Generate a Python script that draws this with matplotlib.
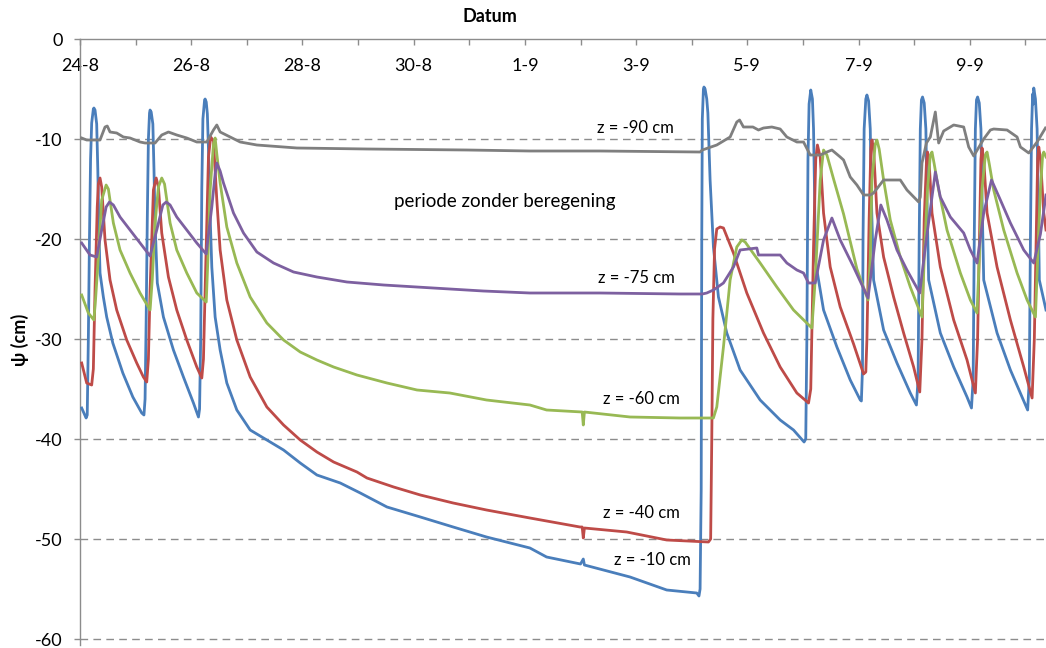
import matplotlib
matplotlib.use("Agg")
import matplotlib.pyplot as plt
from matplotlib.ticker import FixedLocator, MultipleLocator

plt.rcParams['font.family'] = ['Lato', 'DejaVu Sans']
plt.rcParams['axes.unicode_minus'] = False

# x = days since 24-8 (00:00), y = psi in cm
tick_days = [0, 2, 4, 6, 8, 10, 12, 14, 16]
tick_labels = ['24-8', '26-8', '28-8', '30-8', '1-9', '3-9', '5-9', '7-9', '9-9']
y_ticks = [0, -10, -20, -30, -40, -50, -60]

t_z10 = [0.03, 0.11, 0.13, 0.15, 0.17, 0.19, 0.21, 0.24, 0.25, 0.27, 0.30, 0.32, 0.34, 0.36, 0.42, 0.48, 0.59, 0.77, 0.95, 1.11, 1.15,
         1.17, 1.19, 1.21, 1.23, 1.25, 1.26, 1.28, 1.31, 1.33, 1.35, 1.39, 1.50, 1.68, 1.86, 2.04, 2.13,
         2.15, 2.17, 2.19, 2.21, 2.24, 2.25, 2.27, 2.29, 2.31, 2.33, 2.36, 2.37, 2.43, 2.52, 2.64, 2.82, 3.06, 3.36, 3.66, 3.96,
         4.26, 4.68, 5.04, 5.52, 6.12, 6.71, 7.31, 8.09, 8.39, 9.00, 9.05, 9.07, 9.89, 10.55, 11.09, 11.13, 11.15,
         11.17, 11.18, 11.19, 11.21, 11.22, 11.24, 11.27, 11.29, 11.33, 11.39, 11.48, 11.63, 11.87, 12.23, 12.59, 12.83, 13.02,
         13.05, 13.07, 13.09, 13.11, 13.14, 13.17, 13.19, 13.21, 13.22, 13.37, 13.61, 13.85, 14.03, 14.05,
         14.07, 14.08, 14.10, 14.13, 14.15, 14.18, 14.21, 14.23, 14.27, 14.45, 14.69, 14.93, 15.04,
         15.07, 15.09, 15.11, 15.13, 15.15, 15.18, 15.21, 15.23, 15.26, 15.47, 15.71, 15.95, 16.03,
         16.06, 16.08, 16.10, 16.12, 16.14, 16.17, 16.20, 16.22, 16.25, 16.49, 16.73, 16.94, 17.04,
         17.07, 17.09, 17.11, 17.13, 17.14, 17.15, 17.18, 17.21, 17.23, 17.25, 17.37]
v_z10 = [-36.9, -37.9, -37.6, -30.0, -20.0, -12.0, -8.4, -7.0, -6.9, -7.1, -8.5, -13.0, -19.0, -23.4, -25.8, -27.8, -30.4, -33.4, -35.8, -37.4, -37.6,
         -36.0, -28.0, -18.0, -10.0, -7.4, -7.1, -7.3, -8.5, -13.0, -18.4, -24.4, -27.8, -31.1, -33.8, -36.4, -37.8,
         -37.0, -30.0, -15.0, -8.0, -6.1, -6.0, -6.3, -7.5, -11.0, -16.0, -21.0, -22.8, -27.8, -31.1, -34.4, -37.1, -39.1, -40.1, -41.1, -42.4,
         -43.6, -44.4, -45.4, -46.8, -47.8, -48.8, -49.8, -50.9, -51.8, -52.5, -52.0, -52.6, -53.8, -55.1, -55.4, -55.7, -55.0,
         -45.0, -20.0, -8.0, -5.0, -4.8, -5.0, -6.0, -7.4, -14.1, -20.8, -25.8, -29.4, -33.1, -36.1, -38.1, -39.1, -40.3,
         -40.0, -30.0, -12.0, -6.5, -5.1, -6.0, -9.0, -16.0, -22.1, -27.1, -30.8, -34.1, -36.1, -36.2,
         -33.0, -20.0, -9.0, -6.0, -5.6, -6.2, -9.0, -16.0, -24.1, -29.1, -32.4, -35.4, -36.6,
         -34.0, -20.0, -9.0, -6.1, -5.8, -6.4, -9.0, -16.0, -24.1, -29.4, -32.8, -35.8, -36.9,
         -34.0, -20.0, -9.0, -6.1, -5.8, -6.4, -9.0, -16.0, -24.1, -29.4, -33.1, -35.8, -37.1,
         -34.0, -20.0, -9.0, -5.5, -6.5, -4.9, -6.0, -9.0, -16.0, -24.1, -27.1]

t_z40 = [0.03, 0.12, 0.21, 0.24, 0.27, 0.31, 0.33, 0.36, 0.39, 0.45, 0.54, 0.66, 0.84, 1.02, 1.14, 1.20,
         1.23, 1.26, 1.32, 1.37, 1.41, 1.47, 1.59, 1.74, 1.92, 2.10, 2.19,
         2.22, 2.25, 2.31, 2.35, 2.40, 2.46, 2.52, 2.64, 2.82, 3.06, 3.36, 3.66, 3.96, 4.26, 4.56, 4.98, 5.16, 5.64,
         6.12, 6.71, 7.31, 8.09, 8.99, 9.03, 9.05, 9.07, 9.83, 10.55, 11.30, 11.34,
         11.36, 11.38, 11.41, 11.45, 11.51, 11.57, 11.75, 11.99, 12.29, 12.59, 12.89, 13.10,
         13.14, 13.19, 13.23, 13.26, 13.31, 13.37, 13.49, 13.67, 13.91, 14.09, 14.13,
         14.15, 14.19, 14.22, 14.24, 14.27, 14.33, 14.45, 14.63, 14.81, 14.99, 15.10,
         15.14, 15.18, 15.22, 15.24, 15.27, 15.32, 15.47, 15.71, 15.95, 16.10,
         16.14, 16.18, 16.20, 16.22, 16.25, 16.31, 16.49, 16.73, 16.97, 17.12,
         17.16, 17.20, 17.22, 17.24, 17.27, 17.33, 17.37]
v_z40 = [-32.4, -34.4, -34.6, -33.0, -25.1, -16.8, -14.5, -13.9, -14.8, -20.1, -24.1, -27.1, -30.1, -32.4, -33.8, -34.3,
         -32.0, -25.1, -15.1, -13.9, -14.8, -19.4, -23.8, -27.1, -30.1, -32.8, -33.9,
         -32.0, -25.1, -11.8, -9.8, -10.2, -16.1, -21.1, -26.1, -30.1, -33.8, -36.8, -38.6, -40.1, -41.3, -42.3, -43.3, -43.9, -44.8,
         -45.6, -46.4, -47.1, -47.9, -48.8, -48.8, -49.9, -48.9, -49.3, -50.1, -50.3, -50.0,
         -40.0, -28.0, -21.0, -19.0, -18.8, -18.9, -21.4, -25.4, -29.4, -32.8, -35.4, -36.4,
         -35.0, -20.8, -12.0, -10.6, -11.8, -17.4, -22.8, -26.8, -30.5, -33.5, -33.3,
         -30.0, -18.0, -11.0, -10.1, -11.0, -17.4, -21.8, -25.8, -29.4, -32.8, -35.3,
         -30.0, -18.0, -12.4, -11.3, -12.5, -17.4, -22.8, -28.1, -32.1, -35.4,
         -30.0, -18.0, -12.0, -10.9, -12.0, -17.4, -22.8, -28.1, -32.8, -35.9,
         -30.0, -18.0, -12.0, -10.8, -12.0, -17.4, -19.1]

t_z60 = [0.03, 0.15, 0.25, 0.28, 0.33, 0.39, 0.47, 0.51, 0.60, 0.72, 0.90, 1.08, 1.26,
         1.30, 1.35, 1.41, 1.47, 1.52, 1.62, 1.74, 1.92, 2.10, 2.27,
         2.30, 2.34, 2.40, 2.43, 2.46, 2.52, 2.64, 2.82, 3.06, 3.36, 3.66, 3.96, 4.26, 4.56, 4.98, 5.52, 6.06, 6.65,
         7.31, 8.09, 8.39, 9.03, 9.05, 9.07, 9.89, 10.79, 11.39, 11.45, 11.57, 11.69, 11.81, 11.90, 11.96, 12.23,
         12.53, 12.83, 13.16, 13.22, 13.31, 13.37, 13.43, 13.55, 13.73, 13.97, 14.17,
         14.21, 14.24, 14.30, 14.33, 14.37, 14.45, 14.57, 14.75, 14.93, 15.14,
         15.18, 15.24, 15.29, 15.32, 15.36, 15.44, 15.59, 15.83, 16.01, 16.13,
         16.17, 16.22, 16.28, 16.31, 16.35, 16.43, 16.61, 16.85, 17.03, 17.18,
         17.22, 17.27, 17.31, 17.33, 17.37]
v_z60 = [-25.6, -27.4, -28.1, -26.0, -21.8, -16.1, -14.6, -15.0, -18.4, -21.1, -23.4, -25.4, -27.1,
         -24.0, -18.4, -14.8, -13.9, -14.5, -18.4, -21.1, -23.4, -25.4, -26.3,
         -22.0, -15.1, -10.5, -9.9, -11.5, -14.4, -18.8, -22.4, -25.8, -28.4, -30.1, -31.3, -32.1, -32.8, -33.6, -34.4, -35.1, -35.4,
         -36.1, -36.6, -37.1, -37.3, -38.6, -37.3, -37.8, -37.9, -37.9, -36.8, -30.8, -24.1, -20.8, -20.1, -20.3, -22.4,
         -24.8, -27.1, -28.9, -24.1, -14.1, -11.1, -11.6, -14.0, -17.5, -23.0, -26.1,
         -22.0, -14.1, -10.5, -10.1, -11.0, -14.1, -18.1, -21.8, -24.8, -27.8,
         -22.0, -15.0, -11.6, -11.3, -12.5, -15.1, -19.1, -23.4, -26.1, -27.4,
         -22.0, -15.0, -11.6, -11.3, -12.5, -15.1, -19.1, -23.4, -26.1, -27.8,
         -22.0, -15.0, -11.6, -11.3, -11.8]

t_z75 = [0.03, 0.18, 0.30, 0.39, 0.47, 0.53, 0.60, 0.72, 0.90, 1.08, 1.26,
         1.38, 1.49, 1.55, 1.62, 1.74, 1.92, 2.10, 2.27,
         2.30, 2.37, 2.43, 2.46, 2.52, 2.58, 2.76, 2.94, 3.18, 3.48, 3.84, 4.26, 4.80, 5.46, 6.35, 7.25, 8.09, 9.35,
         10.79, 11.19, 11.27, 11.39, 11.57, 11.75, 11.87, 12.17, 12.20, 12.59, 12.71, 12.89, 13.01, 13.10, 13.22,
         13.37, 13.52, 13.67, 13.91, 14.17,
         14.30, 14.40, 14.51, 14.69, 14.87, 15.10,
         15.20, 15.38, 15.47, 15.65, 15.89, 16.01, 16.13,
         16.25, 16.39, 16.55, 16.73, 16.97, 17.15, 17.27, 17.37]
v_z75 = [-20.4, -21.6, -21.8, -19.1, -16.8, -16.3, -16.6, -17.8, -19.1, -20.4, -21.7,
         -19.1, -16.6, -16.3, -16.6, -17.8, -19.1, -20.4, -21.5,
         -20.0, -16.8, -13.5, -12.4, -13.2, -14.4, -17.4, -19.4, -21.3, -22.4, -23.3, -23.8, -24.3, -24.6, -24.9, -25.2, -25.4, -25.4,
         -25.5, -25.5, -25.4, -25.1, -24.4, -22.8, -21.1, -20.9, -21.6, -21.6, -22.4, -23.1, -23.4, -24.4, -24.4,
         -20.1, -17.9, -20.1, -22.8, -25.9,
         -20.1, -16.6, -18.1, -21.1, -23.1, -25.4,
         -20.8, -13.3, -15.8, -17.8, -19.4, -21.1, -22.4,
         -17.4, -14.1, -16.1, -18.4, -21.1, -22.4, -19.5, -15.6]

t_z90 = [0.03, 0.12, 0.36, 0.45, 0.49, 0.54, 0.66, 0.78, 0.90, 1.08, 1.17, 1.35, 1.47, 1.59, 1.74, 1.92, 2.10, 2.28,
         2.40, 2.46, 2.52, 2.70, 2.88, 3.18, 3.90, 5.16, 6.96, 8.09, 9.35, 11.15, 11.19, 11.45, 11.69, 11.81, 11.86,
         11.93, 12.10, 12.20, 12.29, 12.44, 12.59, 12.71, 12.89, 13.01, 13.13, 13.31, 13.43, 13.52, 13.67, 13.73,
         13.85, 13.97, 14.09, 14.21, 14.27, 14.45, 14.75, 14.87, 15.08, 15.11, 15.14, 15.22, 15.29, 15.38, 15.44,
         15.53, 15.71, 15.89, 15.98, 16.07, 16.25, 16.37, 16.43, 16.67, 16.85, 16.91, 17.06, 17.21, 17.36]
v_z90 = [-9.9, -10.1, -10.1, -8.8, -8.7, -9.3, -9.4, -9.8, -9.9, -10.3, -10.4, -10.4, -9.6, -9.3, -9.6, -9.9, -10.3, -10.3,
         -9.1, -8.6, -9.3, -9.8, -10.3, -10.6, -10.9, -11.0, -11.1, -11.2, -11.2, -11.3, -11.1, -10.6, -9.8, -8.3, -8.1,
         -8.8, -8.8, -9.1, -8.9, -8.8, -9.0, -9.8, -10.3, -10.3, -11.6, -11.6, -11.3, -11.1, -11.8, -12.1,
         -13.8, -14.6, -15.6, -15.6, -15.4, -14.1, -14.1, -15.1, -16.3, -15.8, -12.4, -10.4, -9.8, -7.3, -10.4,
         -9.2, -8.6, -8.8, -10.8, -11.7, -10.0, -9.1, -9.0, -9.1, -9.8, -10.8, -11.4, -10.3, -8.9]

series = [
    (t_z10, v_z10, '#4A7EBB'),
    (t_z40, v_z40, '#BE4B48'),
    (t_z60, v_z60, '#98B954'),
    (t_z75, v_z75, '#7D60A0'),
    (t_z90, v_z90, '#7F7F7F'),
]

labels = [
    ('z = -90 cm', 9.98, -8.9, 12),
    ('periode zonder beregening', 7.63, -16.2, 13.5),
    ('z = -75 cm', 10.0, -23.9, 12),
    ('z = -60 cm', 10.09, -36.0, 12),
    ('z = -40 cm', 10.09, -47.4, 12),
    ('z = -10 cm', 10.29, -52.1, 12),
]

W, H = 1046, 648
fig = plt.figure(figsize=(W / 100, H / 100), dpi=100)
ax = fig.add_axes([80 / W, 1 - 645 / H, 966 / W, 606 / H])

for t, v, c in series:
    ax.plot(t, v, color=c, lw=2.0, solid_joinstyle='round', zorder=3)

ax.set_xlim(0, 17.37)
ax.set_ylim(-60.6, 0)

# grid
for yv in y_ticks[1:]:
    ax.axhline(yv, color='#8C8C8C', lw=1.0, dashes=(5.5, 3.8), zorder=1)

ax.xaxis.tick_top()
ax.xaxis.set_major_locator(FixedLocator(tick_days))
ax.xaxis.set_minor_locator(MultipleLocator(1))
ax.set_xticklabels(tick_labels)
ax.tick_params(axis='x', which='both', direction='in', length=4, width=1, color='#8C8C8C',
               top=True, bottom=False, labeltop=True, labelbottom=False)
ax.tick_params(axis='x', which='major', pad=-25.5, labelsize=13)

ax.set_yticks(y_ticks)
ax.tick_params(axis='y', direction='out', length=4, width=1, color='#8C8C8C', pad=8.5, labelsize=13)

for s in ['right', 'bottom']:
    ax.spines[s].set_visible(False)
for s in ['left', 'top']:
    ax.spines[s].set_color('#8C8C8C')
    ax.spines[s].set_linewidth(1.0)

for txt, x, y, fs in labels:
    ax.text(x, y, txt, ha='center', va='center', fontsize=fs, color='black', zorder=4)

fig.text(490 / W, 1 - 17 / H, 'Datum', ha='center', va='center', fontsize=13, fontweight='bold')
fig.text(20 / W, 1 - 340 / H, 'ψ (cm)', ha='center', va='center', fontsize=13, fontweight='bold',
         rotation=90)

fig.savefig('out.png', dpi=100)
